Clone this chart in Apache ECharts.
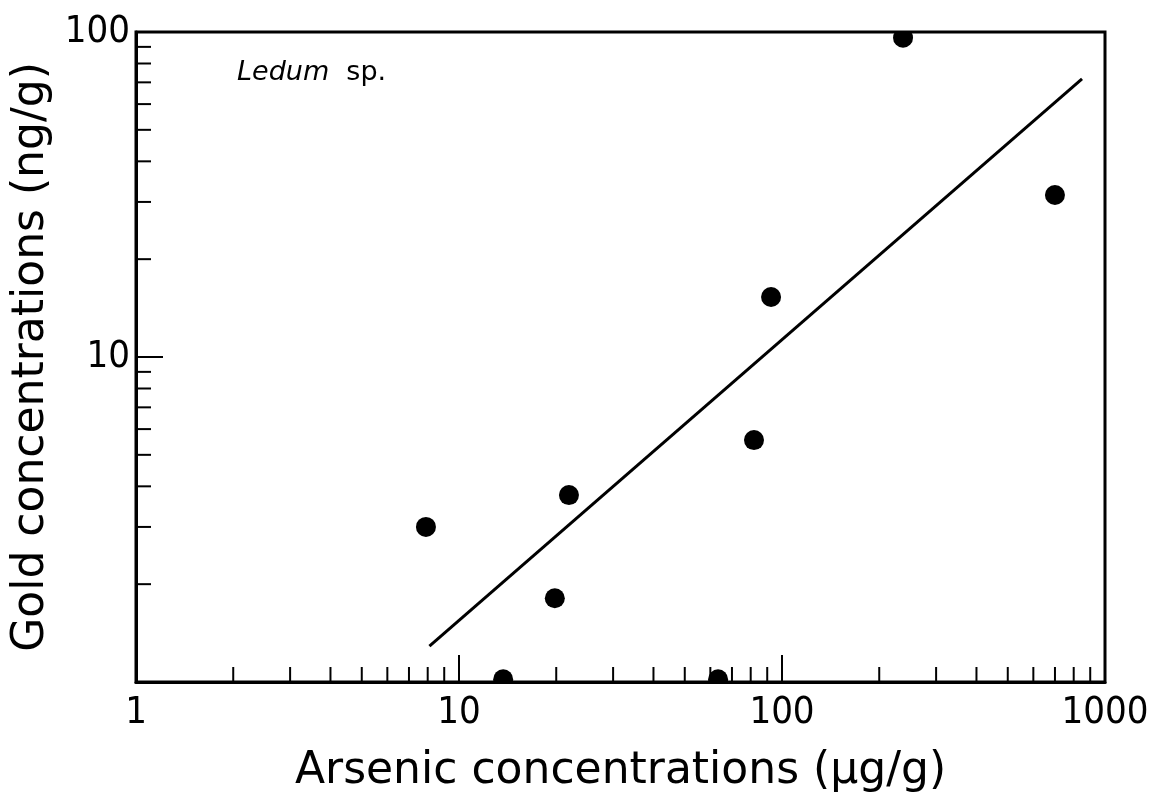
<!DOCTYPE html>
<html>
<head>
<meta charset="utf-8">
<script src="https://cdn.jsdelivr.net/npm/echarts@6/dist/echarts.min.js"></script>
<style>
html,body{margin:0;padding:0;background:#fff;}
#chart{width:1158px;height:805px;}
</style>
</head>
<body>
<div id="chart"></div>
<script>
// Data
const arsenic = [7.9, 13.7, 19.8, 21.9, 63.4, 81.9, 92.5, 237, 700];
const gold    = [3.0, 1.02, 1.81, 3.76, 1.02, 5.55, 15.3, 96, 31.5];
const fitX = [8.1, 849];
const fitY = [1.29, 71.7];
const xTickLabels = ['1', '10', '100', '1000'];
const yTickLabels = ['', '10', '100'];
const xMinorTicks = [2,3,4,5,6,7,8,9,20,30,40,50,60,70,80,90,200,300,400,500,600,700,800,900];
const yMinorTicks = [2,3,4,5,6,7,8,9,20,30,40,50,60,70,80,90];

const numFont = "'Liberation Sans Narrow', 'DejaVu Sans Condensed', 'DejaVu Sans', sans-serif";
const titleFont = "'DejaVu Sans', sans-serif";

const chart = echarts.init(document.getElementById('chart'), null, {renderer: 'canvas'});

function minorTickItem(axis) {
  return function (params, api) {
    let p1, p2;
    if (axis === 'x') {
      p1 = api.coord([api.value(0), 1]);
      p2 = [p1[0], p1[1] - 15];
    } else {
      p1 = api.coord([1, api.value(1)]);
      p2 = [p1[0] + 15, p1[1]];
    }
    return {
      type: 'line',
      shape: {x1: p1[0], y1: p1[1], x2: p2[0], y2: p2[1]},
      style: {stroke: '#000', lineWidth: 2}
    };
  };
}

function pointItem(params, api) {
  const p = api.coord([api.value(0), api.value(1)]);
  return {
    type: 'circle',
    shape: {cx: p[0], cy: p[1], r: 10},
    style: {fill: '#000'}
  };
}

const option = {
  backgroundColor: '#fff',
  animation: false,
  title: {
    text: '{i|Ledum}  sp.',
    left: 232,
    top: 54,
    textStyle: {
      rich: {
        i: {fontStyle: 'italic', fontSize: 27, fontFamily: titleFont, color: '#000'}
      },
      fontSize: 27,
      fontWeight: 'normal',
      fontFamily: titleFont,
      color: '#000'
    }
  },
  grid: {
    left: 136, right: 53, top: 32, bottom: 123,
    show: true, borderColor: '#000', borderWidth: 3, backgroundColor: 'transparent'
  },
  xAxis: {
    type: 'log', logBase: 10, min: 1, max: 1000,
    name: 'Arsenic concentrations (µg/g)',
    nameLocation: 'middle', nameGap: 68,
    nameTextStyle: {fontSize: 44, fontFamily: titleFont, color: '#000'},
    axisLine: {show: true, lineStyle: {color: '#000', width: 3}},
    axisTick: {show: true, inside: true, length: 27, lineStyle: {color: '#000', width: 2}},
    minorTick: {show: false},
    splitLine: {show: false},
    axisLabel: {
      color: '#000', fontSize: 38, fontFamily: numFont, margin: 12,
      formatter: function (v) {
        const i = Math.round(Math.log10(v));
        return xTickLabels[i] !== undefined ? xTickLabels[i] : '';
      }
    }
  },
  yAxis: {
    type: 'log', logBase: 10, min: 1, max: 100,
    name: 'Gold concentrations (ng/g)',
    nameLocation: 'middle', nameGap: 70,
    nameTextStyle: {fontSize: 44, fontFamily: titleFont, color: '#000'},
    axisLine: {show: true, lineStyle: {color: '#000', width: 3}},
    axisTick: {show: true, inside: true, length: 27, lineStyle: {color: '#000', width: 2}},
    minorTick: {show: false},
    splitLine: {show: false},
    axisLabel: {
      color: '#000', fontSize: 38, fontFamily: numFont, margin: 6,
      formatter: function (v) {
        const i = Math.round(Math.log10(v));
        return yTickLabels[i] !== undefined ? yTickLabels[i] : '';
      }
    }
  },
  series: [
    {
      type: 'custom',
      renderItem: minorTickItem('x'),
      data: xMinorTicks.map(v => [v, 1]),
      clip: false, silent: true, z: 1
    },
    {
      type: 'custom',
      renderItem: minorTickItem('y'),
      data: yMinorTicks.map(v => [1, v]),
      clip: false, silent: true, z: 1
    },
    {
      type: 'line',
      data: fitX.map((x, i) => [x, fitY[i]]),
      showSymbol: false,
      lineStyle: {color: '#000', width: 3},
      z: 2
    },
    {
      type: 'custom',
      name: 'Ledum sp.',
      renderItem: pointItem,
      data: arsenic.map((x, i) => [x, gold[i]]),
      clip: true,
      z: 3
    }
  ]
};
chart.setOption(option);
</script>
</body>
</html>
